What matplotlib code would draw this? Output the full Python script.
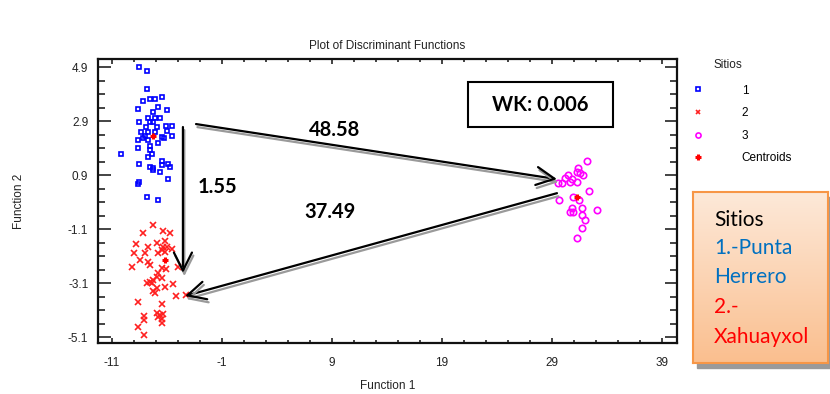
import numpy as np
import matplotlib
matplotlib.use('Agg')
import matplotlib.pyplot as plt
import matplotlib.patheffects as pe
from matplotlib.patches import Rectangle
from matplotlib.ticker import FixedLocator
from matplotlib.colors import LinearSegmentedColormap

# discriminant scores
site1_x = [-8.52, -7.85, -7.85, -6.48, -7.55, -7.09, -8.21, -6.79, -8.66, -5.97,
           -7.25, -7.70, -7.09, -6.64, -8.52, -7.55, -7.25, -6.12, -5.52, -7.91,
           -6.94, -8.36, -5.97, -7.70, -7.09, -8.00, -6.48, -6.27, -5.52, -8.66,
           -8.21, -7.70, -6.79, -7.55, -8.66, -7.55, -7.39, -10.21, -7.75, -8.52,
           -6.48, -6.48, -7.55, -7.30, -5.88, -5.73, -6.64, -7.25, -8.52, -8.66,
           -5.88, -7.85, -6.79]
site1_y = [4.91, 4.75, 4.09, 3.80, 3.71, 3.71, 3.65, 3.43, 3.36, 3.30,
           3.22, 3.00, 3.00, 3.00, 2.85, 2.85, 2.85, 2.71, 2.71, 2.69,
           2.69, 2.50, 2.54, 2.50, 2.50, 2.34, 2.30, 2.26, 2.34, 2.20,
           2.26, 2.20, 2.10, 1.97, 1.91, 1.83, 1.68, 1.68, 1.58, 1.31,
           1.42, 1.27, 1.21, 1.15, 1.30, 1.21, 1.02, 1.09, 0.65, 0.57,
           0.75, 0.10, -0.03]

site2_x = [-7.25, -8.15, -6.34, -5.73, -8.82, -7.70, -6.94, -6.18, -6.34, -6.03,
           -5.57, -9.00, -8.00, -6.79, -6.48, -6.18, -8.45, -7.70, -7.55, -9.15,
           -6.48, -6.12, -4.97, -6.79, -6.94, -6.48, -7.25, -7.55, -7.85, -7.39,
           -5.43, -6.18, -6.94, -7.09, -5.18, -4.27, -7.25, -8.66, -6.48, -6.94,
           -6.64, -6.34, -6.48, -6.79, -8.09, -8.09, -6.48, -8.66, -8.06]
site2_y = [-0.95, -1.24, -1.17, -1.24, -1.67, -1.76, -1.61, -1.54, -1.76, -1.76,
           -1.84, -1.98, -2.00, -2.00, -1.88, -1.94, -2.25, -2.31, -2.43, -2.50,
           -2.56, -2.58, -2.50, -2.74, -2.87, -2.93, -2.99, -3.05, -3.11, -3.11,
           -3.14, -3.24, -3.30, -3.48, -3.58, -3.54, -3.39, -3.79, -3.88, -4.22,
           -4.29, -4.26, -4.44, -4.37, -4.32, -4.47, -4.57, -4.74, -5.03]

site3_x = [32.15, 31.39, 31.25, 31.85, 31.55, 30.48, 30.18, 30.79, 31.25, 29.57,
           29.88, 30.64, 32.39, 29.66, 30.94, 31.48, 33.12, 30.79, 30.94, 30.64,
           31.70, 31.70, 32.00, 31.70, 31.25]
site3_y = [1.43, 1.15, 1.02, 0.90, 0.96, 0.90, 0.78, 0.74, 0.65, 0.61,
           0.61, 0.65, 0.32, -0.03, 0.10, -0.03, -0.40, -0.33, -0.46, -0.46,
           -0.33, -0.58, -0.77, -1.07, -1.42]

centroid_x = [-7.27, -6.18, 31.27]
centroid_y = [2.34, -2.25, 0.09]

x_ticks = [-11, -1, 9, 19, 29, 39]
x_tick_labels = ["-11", "-1", "9", "19", "29", "39"]
y_ticks = [-5.1, -3.1, -1.1, 0.9, 2.9, 4.9]
y_tick_labels = ["-5.1", "-3.1", "-1.1", "0.9", "2.9", "4.9"]

# distances between groups written on the arrows
dist_labels = ["48.58", "1.55", "37.49"]
wk_label = "WK: 0.006"
note_lines = ["Sitios", "1.-Punta", "Herrero", "2.-", "Xahuayxol"]
note_colors = ["black", "#0070C0", "#0070C0", "#FF0000", "#FF0000"]

W, H = 830, 394
fig = plt.figure(figsize=(W / 100, H / 100), dpi=100)
ax = fig.add_axes([98 / W, 1 - 343 / H, 579 / W, 284 / H])

small = dict(family='Liberation Sans', size=8.5, color='#222222')

ax.plot(site1_x, site1_y, 's', ms=3.2, mfc='none', mec='#0000ff', mew=1.2, label='1')
ax.plot(site2_x, site2_y, 'x', ms=4, mec='#ff2020', mew=1.2, label='2')
ax.plot(site3_x, site3_y, 'o', ms=4.6, mfc='none', mec='#ff00ff', mew=1.2, label='3')
ax.plot(centroid_x, centroid_y, '+', ms=5, mec='#ff0000', mew=2.2, label='Centroids')

ax.set_xlim(-12.27, 40.36)
ax.set_ylim(-5.32, 5.20)
ax.xaxis.set_major_locator(FixedLocator(x_ticks))
ax.xaxis.set_minor_locator(FixedLocator(np.arange(-11, 41, 2)))
ax.yaxis.set_major_locator(FixedLocator(y_ticks))
ax.yaxis.set_minor_locator(FixedLocator(np.arange(-5.1, 5.2, 0.5)))
ax.set_xticklabels(x_tick_labels, fontdict=small)
ax.set_yticklabels(y_tick_labels, fontdict=small)
ax.tick_params(which='both', direction='in', top=True, right=True, width=1.1, color='#111111')
ax.tick_params(axis='x', which='major', length=3.6, pad=10)
ax.tick_params(axis='x', which='minor', length=2.2)
ax.tick_params(axis='y', which='major', length=9, pad=7)
ax.tick_params(axis='y', which='minor', length=5)
for s in ax.spines.values():
    s.set_linewidth(1.6)
    s.set_color('#111111')

ax.set_title("Plot of Discriminant Functions", pad=7, **small)
ax.set_xlabel("Function 1", **small)
ax.set_ylabel("Function 2", **small)
ax.xaxis.set_label_coords(0.5, -0.13)
ax.yaxis.set_label_coords(-0.126, 0.5)

# arrows between the group centroids
shadow = [pe.SimpleLineShadow(offset=(1, -2.2), shadow_color='#9a9a9a', alpha=1), pe.Normal()]
arrows = [((-3.36, 2.79), (29.45, 0.75)),
          ((-4.55, 2.68), (-4.55, -2.73)),
          ((29.45, 0.23), (-4.36, -3.58))]
for start, end in arrows:
    ax.annotate('', xy=end, xytext=start,
                arrowprops=dict(arrowstyle='->,head_length=1.3,head_width=0.65',
                                lw=1.6, color='black', shrinkA=0, shrinkB=0,
                                path_effects=shadow))

big = dict(family='Lato', weight='bold', size=14.5, color='black', ha='center', va='center')
ax.text(9.27, 2.57, dist_labels[0], **big)
ax.text(-1.45, 0.46, dist_labels[1], **big)
ax.text(8.82, -0.47, dist_labels[2], **big)

ax.add_patch(Rectangle((21.36, 2.68), 13.19, 1.66, fill=False, lw=1.5, ec='black'))
ax.text(27.95, 3.51, wk_label, **big)

# legend to the right of the plot
fig.text(713 / W, 1 - 65 / H, "Sitios", va='center', **small)
ax.legend(loc='upper left', bbox_to_anchor=(692 / W, 1 - 84.5 / H),
          bbox_transform=fig.transFigure, frameon=False, borderpad=0,
          borderaxespad=0, handlelength=1, handletextpad=3.2,
          labelspacing=0.9, prop=dict(family='Liberation Sans', size=8.5),
          markerscale=0.8)

# orange note box
fig.add_artist(Rectangle((697 / W, 1 - 368 / H), 135 / W, 171 / H,
                         transform=fig.transFigure, color='#9a9a9a', zorder=-1))
bx = fig.add_axes([693 / W, 1 - 363 / H, 135 / W, 171 / H])
grad = np.linspace(0, 1, 100).reshape(-1, 1)
cmap = LinearSegmentedColormap.from_list('peach', ['#fde9d9', '#fabf8f'])
bx.imshow(grad, aspect='auto', cmap=cmap, extent=[0, 1, 0, 1], origin='upper')
bx.set_xticks([])
bx.set_yticks([])
for s in bx.spines.values():
    s.set_color('#f79646')
    s.set_linewidth(1.5)

note_y = [220, 248, 277, 307, 337]
for txt, col, py in zip(note_lines, note_colors, note_y):
    fig.text(714 / W, 1 - py / H, txt, color=col, family='Lato', size=15, va='center')

fig.savefig('out.png', dpi=100)
